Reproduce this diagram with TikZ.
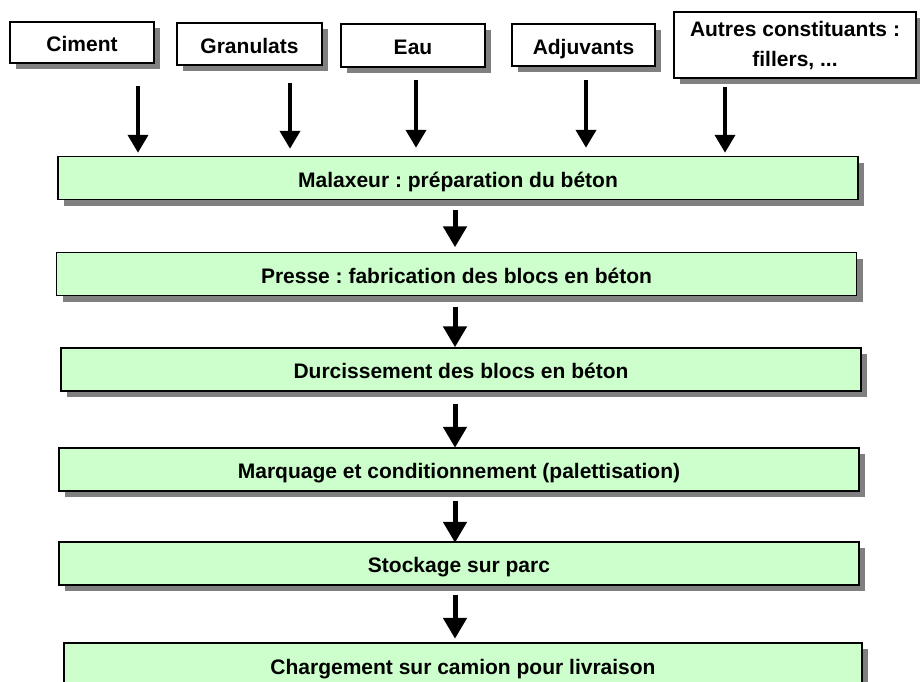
\documentclass[tikz,border=0pt]{standalone}
\usepackage{fontspec}
\setmainfont{Liberation Sans}
\frenchspacing
\usetikzlibrary{shadows,arrows.meta}
\definecolor{boxgreen}{HTML}{CCFFCC}
\definecolor{shadowgray}{HTML}{808080}
\begin{document}
\begin{tikzpicture}[x=1pt,y=-1pt,
  basebox/.style={draw=black, line width=1.5pt, inner sep=0pt,
    font=\bfseries\fontsize{21}{30}\selectfont, align=center,
    general shadow={fill=shadowgray, shadow xshift=6pt, shadow yshift=-6pt}},
  oneline/.style={text height=18.5pt, text depth=0pt},
  inbox/.style={basebox, fill=white},
  stepbox/.style={basebox, oneline, fill=boxgreen, minimum width=800pt, minimum height=43pt},
  arr/.style={line width=4pt, -{Triangle[width=20pt,length=18pt]}},
  arrb/.style={line width=5pt, -{Triangle[width=23pt,length=21pt]}}]
\useasboundingbox[fill=white] (0,0) rectangle (920,681);
% input boxes
\node[inbox, oneline, minimum width=144pt, minimum height=41pt] (ciment) at (82,42.5) {Ciment};
\node[inbox, oneline, minimum width=145pt, minimum height=42pt] (gran) at (249.5,44) {Granulats};
\node[inbox, oneline, minimum width=144pt, minimum height=43pt] (eau) at (413,45.5) {Eau};
\node[inbox, oneline, minimum width=143pt, minimum height=42pt] (adj) at (583.5,45) {Adjuvants};
\node[inbox, minimum width=242pt, minimum height=66pt] (autres) at (795,45) {\raisebox{-3pt}{\begin{tabular}{@{}c@{}}Autres constituants :\\fillers, ...\end{tabular}}};
% process boxes
\node[stepbox] (mal) at (458,178) {Malaxeur : préparation du béton};
\node[stepbox] (pre) at (456.5,274) {Presse : fabrication des blocs en béton};
\node[stepbox] (dur) at (461,369.5) {Durcissement des blocs en béton};
\node[stepbox] (mar) at (459,469.5) {Marquage et conditionnement (palettisation)};
\node[stepbox] (sto) at (459,563.5) {Stockage sur parc};
\node[stepbox, minimum width=798pt, minimum height=44pt] (cha) at (463,665) {Chargement sur camion pour livraison};
% input arrows
\draw[arr] (ciment.south) ++(56,22) -- ++(0,67);
\draw[arr] (gran.south) ++(40.5,17) -- ++(0,66);
\draw[arr] (eau.south) ++(3,12) -- ++(0,68);
\draw[arr] (adj.south) ++(2.5,13) -- ++(0,68);
\draw[arr] (autres.south) ++(-70,8) -- ++(0,66);
% process arrows
\draw[arrb] (mal.south) ++(-3,10) -- ++(0,37);
\draw[arrb] (pre.south) ++(-1.5,11) -- ++(0,40);
\draw[arrb] (dur.south) ++(-6,12) -- ++(0,44);
\draw[arrb] (mar.south) ++(-4,9) -- ++(0,42);
\draw[arrb] (sto.south) ++(-4,9) -- ++(0,44);
\end{tikzpicture}
\end{document}
